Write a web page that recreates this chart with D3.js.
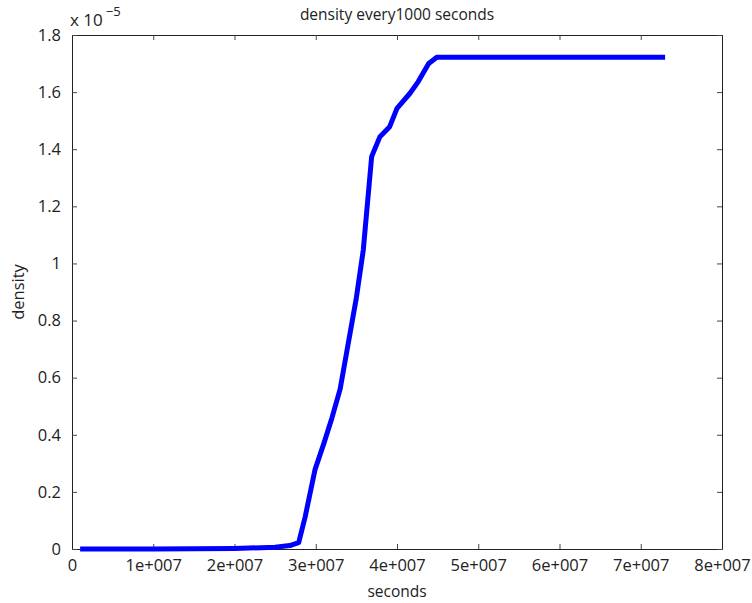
<!DOCTYPE html>
<html>
<head>
<meta charset="utf-8">
<script src="https://cdn.jsdelivr.net/npm/d3@7"></script>
<style>
  html, body { margin: 0; padding: 0; background: #fff; }
  svg { display: block; }
  text { font-family: "Open Sans", "Noto Sans", sans-serif; fill: #222; }
</style>
</head>
<body>
<svg id="chart" width="752" height="603"></svg>
<script>
// Density sampled over time (seconds), density in units of 1e-5
const seconds = [1e6, 1e7, 2e7, 2.5e7, 2.68e7, 2.79e7, 2.87e7, 2.99e7, 3.1e7, 3.2e7, 3.3e7,
                 3.4e7, 3.5e7, 3.585e7, 3.688e7, 3.79e7, 3.91e7, 4.0e7, 4.16e7, 4.26e7,
                 4.39e7, 4.49e7, 5.0e7, 6.0e7, 7.3e7];
const density = [0.0, 0.0, 0.002, 0.006, 0.012, 0.022, 0.113, 0.277, 0.37, 0.46, 0.56,
                 0.72, 0.88, 1.047, 1.374, 1.444, 1.479, 1.543, 1.596, 1.636,
                 1.70, 1.722, 1.722, 1.722, 1.722];
const xTicks = [0, 1e7, 2e7, 3e7, 4e7, 5e7, 6e7, 7e7, 8e7];
const xTickLabels = ["0", "1e+007", "2e+007", "3e+007", "4e+007", "5e+007", "6e+007", "7e+007", "8e+007"];
const yTicks = [0, 0.2, 0.4, 0.6, 0.8, 1, 1.2, 1.4, 1.6, 1.8];
const yTickLabels = ["0", "0.2", "0.4", "0.6", "0.8", "1", "1.2", "1.4", "1.6", "1.8"];

const svg = d3.select("#chart");
const m = { left: 72, right: 722, top: 35, bottom: 549 };

const x = d3.scaleLinear().domain([0, 8e7]).range([m.left, m.right]);
const y = d3.scaleLinear().domain([0, 1.8]).range([m.bottom, m.top]);

const tickFont = 16.5;

// Axes with inward ticks, mirrored on all four sides
const tickLen = 5;
const bottomAxis = d3.axisBottom(x).tickValues(xTicks).tickSizeInner(-tickLen).tickSizeOuter(0)
  .tickPadding(tickLen + 5).tickFormat((d, i) => xTickLabels[i]);
const topAxis = d3.axisTop(x).tickValues(xTicks).tickSizeInner(-tickLen).tickSizeOuter(0).tickFormat("");
const leftAxis = d3.axisLeft(y).tickValues(yTicks).tickSizeInner(-tickLen).tickSizeOuter(0)
  .tickPadding(tickLen + 6).tickFormat((d, i) => yTickLabels[i]);
const rightAxis = d3.axisRight(y).tickValues(yTicks).tickSizeInner(-tickLen).tickSizeOuter(0).tickFormat("");

function styleAxis(g) {
  g.select(".domain").attr("stroke", "#222").attr("stroke-width", 1);
  g.selectAll(".tick line").attr("stroke", "#444").attr("stroke-width", 1);
  g.selectAll(".tick text").style("font-size", tickFont + "px").attr("fill", "#222")
    .style("font-family", "'Open Sans', 'Noto Sans', sans-serif");
}

svg.append("g").attr("transform", `translate(0,${m.bottom})`).call(bottomAxis).call(styleAxis);
svg.append("g").attr("transform", `translate(0,${m.top})`).call(topAxis).call(styleAxis);
svg.append("g").attr("transform", `translate(${m.left},0)`).call(leftAxis).call(styleAxis);
svg.append("g").attr("transform", `translate(${m.right},0)`).call(rightAxis).call(styleAxis);

// Data line
const line = d3.line().x((d, i) => x(seconds[i])).y(d => y(d));
svg.append("path")
  .datum(density)
  .attr("d", line)
  .attr("fill", "none")
  .attr("stroke", "#0000ff")
  .attr("stroke-width", 5)
  .attr("stroke-linejoin", "round");

// Exponent label
const expo = svg.append("text").attr("x", 70).attr("y", 26).style("font-size", "17px");
expo.append("tspan").text("x 10");
expo.append("tspan").attr("dx", 3).attr("dy", -10).style("font-size", "13px").text("\u22125");

// Title and axis labels
svg.append("text").attr("x", (m.left + m.right) / 2).attr("y", 20)
  .attr("text-anchor", "middle").style("font-size", "15.5px")
  .text("density every1000 seconds");
svg.append("text").attr("x", (m.left + m.right) / 2).attr("y", 597)
  .attr("text-anchor", "middle").style("font-size", "15.5px")
  .text("seconds");
svg.append("text").attr("transform", `translate(24,${(m.top + m.bottom) / 2}) rotate(-90)`)
  .attr("text-anchor", "middle").style("font-size", "16.5px")
  .text("density");
</script>
</body>
</html>
